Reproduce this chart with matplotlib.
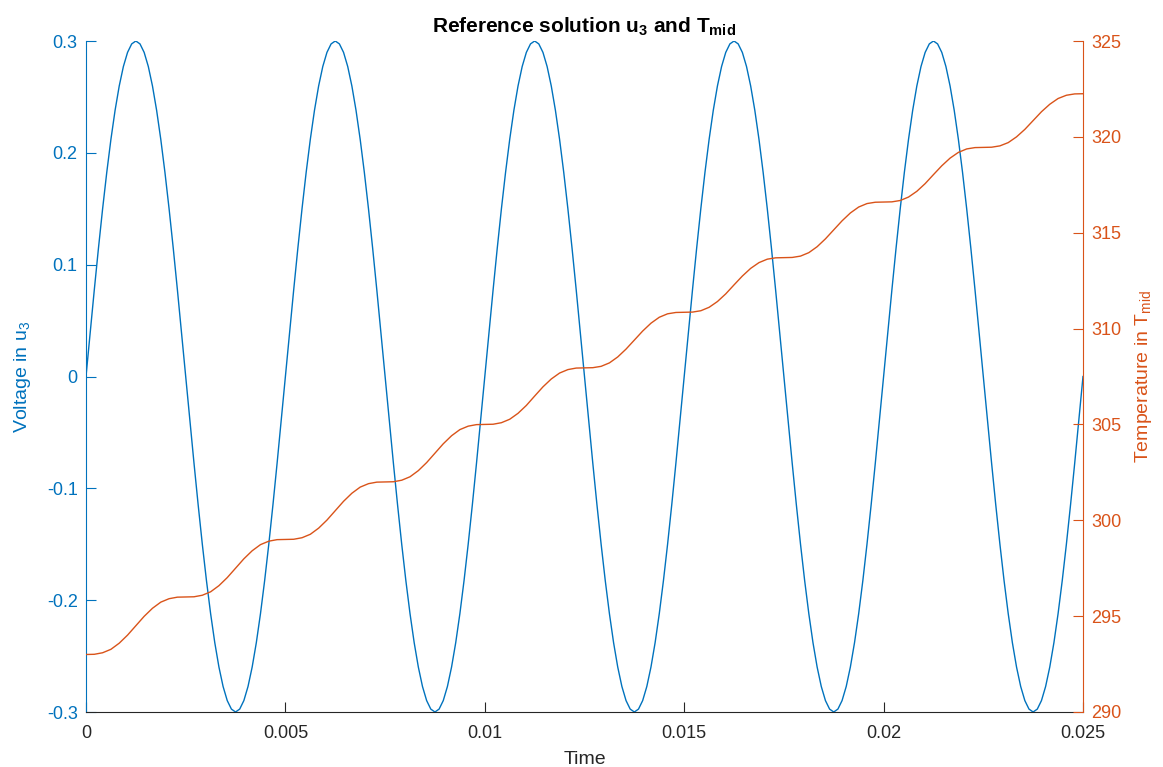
import numpy as np
import matplotlib
matplotlib.use("Agg")
import matplotlib.pyplot as plt

plt.rcParams['font.family'] = ['Liberation Sans', 'DejaVu Sans']
plt.rcParams['mathtext.fontset'] = 'custom'
plt.rcParams['mathtext.rm'] = 'Liberation Sans'
plt.rcParams['mathtext.it'] = 'Liberation Sans:italic'
plt.rcParams['mathtext.bf'] = 'Liberation Sans:bold'
plt.rcParams['axes.unicode_minus'] = False

# ---- data ----
t_start, t_end = 0.0, 0.025

# voltage u3, 48 samples per period (5 periods)
u3 = [
    0, .0392, .0776, .1148, .15, .1826, .2121, .238, .2598, .2772, .2898, .2974,
    .3, .2974, .2898, .2772, .2598, .238, .2121, .1826, .15, .1148, .0776, .0392,
    0, -.0392, -.0776, -.1148, -.15, -.1826, -.2121, -.238, -.2598, -.2772, -.2898, -.2974,
    -.3, -.2974, -.2898, -.2772, -.2598, -.238, -.2121, -.1826, -.15, -.1148, -.0776, -.0392,
    0, .0392, .0776, .1148, .15, .1826, .2121, .238, .2598, .2772, .2898, .2974,
    .3, .2974, .2898, .2772, .2598, .238, .2121, .1826, .15, .1148, .0776, .0392,
    0, -.0392, -.0776, -.1148, -.15, -.1826, -.2121, -.238, -.2598, -.2772, -.2898, -.2974,
    -.3, -.2974, -.2898, -.2772, -.2598, -.238, -.2121, -.1826, -.15, -.1148, -.0776, -.0392,
    0, .0392, .0776, .1148, .15, .1826, .2121, .238, .2598, .2772, .2898, .2974,
    .3, .2974, .2898, .2772, .2598, .238, .2121, .1826, .15, .1148, .0776, .0392,
    0, -.0392, -.0776, -.1148, -.15, -.1826, -.2121, -.238, -.2598, -.2772, -.2898, -.2974,
    -.3, -.2974, -.2898, -.2772, -.2598, -.238, -.2121, -.1826, -.15, -.1148, -.0776, -.0392,
    0, .0392, .0776, .1148, .15, .1826, .2121, .238, .2598, .2772, .2898, .2974,
    .3, .2974, .2898, .2772, .2598, .238, .2121, .1826, .15, .1148, .0776, .0392,
    0, -.0392, -.0776, -.1148, -.15, -.1826, -.2121, -.238, -.2598, -.2772, -.2898, -.2974,
    -.3, -.2974, -.2898, -.2772, -.2598, -.238, -.2121, -.1826, -.15, -.1148, -.0776, -.0392,
    0, .0392, .0776, .1148, .15, .1826, .2121, .238, .2598, .2772, .2898, .2974,
    .3, .2974, .2898, .2772, .2598, .238, .2121, .1826, .15, .1148, .0776, .0392,
    0, -.0392, -.0776, -.1148, -.15, -.1826, -.2121, -.238, -.2598, -.2772, -.2898, -.2974,
    -.3, -.2974, -.2898, -.2772, -.2598, -.238, -.2121, -.1826, -.15, -.1148, -.0776, -.0392,
    0,
]

# temperature T_mid, 12 samples per half period
T_mid = [
    293.0, 293.01, 293.09, 293.27, 293.59, 294.01, 294.5, 294.99, 295.41, 295.73, 295.91, 295.99, 296.0,
    296.01, 296.09, 296.27, 296.59, 297.01, 297.5, 297.99, 298.41, 298.73, 298.91, 298.99, 299.0,
    299.01, 299.09, 299.27, 299.59, 300.01, 300.5, 300.99, 301.41, 301.73, 301.91, 301.99, 302.0,
    302.01, 302.09, 302.27, 302.59, 303.01, 303.5, 303.99, 304.41, 304.73, 304.91, 304.99, 305.0,
    305.01, 305.09, 305.27, 305.58, 305.99, 306.48, 306.96, 307.37, 307.68, 307.86, 307.94, 307.95,
    307.96, 308.03, 308.21, 308.52, 308.93, 309.4, 309.87, 310.28, 310.59, 310.77, 310.84, 310.85,
    310.86, 310.93, 311.11, 311.41, 311.81, 312.28, 312.74, 313.14, 313.44, 313.62, 313.69, 313.7,
    313.71, 313.78, 313.96, 314.27, 314.68, 315.15, 315.62, 316.03, 316.34, 316.52, 316.59, 316.6,
    316.61, 316.68, 316.86, 317.16, 317.56, 318.03, 318.49, 318.89, 319.19, 319.37, 319.44, 319.45,
    319.46, 319.53, 319.7, 320.0, 320.39, 320.85, 321.31, 321.7, 322.0, 322.17, 322.24, 322.25,
]

x_ticks = [0, 0.005, 0.01, 0.015, 0.02, 0.025]
x_labels = ['0', '0.005', '0.01', '0.015', '0.02', '0.025']
u_ticks = [-0.3, -0.2, -0.1, 0, 0.1, 0.2, 0.3]
u_labels = ['-0.3', '-0.2', '-0.1', '0', '0.1', '0.2', '0.3']
T_ticks = [290, 295, 300, 305, 310, 315, 320, 325]
T_labels = ['290', '295', '300', '305', '310', '315', '320', '325']

t_u = np.linspace(t_start, t_end, len(u3))
t_T = np.linspace(t_start, t_end, len(T_mid))

BLUE = '#0072BD'
ORANGE = '#D95319'
DARK = '#262626'

fig = plt.figure(figsize=(11.63, 7.67), dpi=100)
ax = fig.add_axes([86/1163, 1-712/767, (1083-86)/1163, (712-41)/767])
ax2 = ax.twinx()

ax.plot(t_u, u3, color=BLUE, lw=1.0)
ax2.plot(t_T, T_mid, color=ORANGE, lw=1.0)

ax.set_xlim(t_start, t_end)
ax.set_ylim(-0.3, 0.3)
ax2.set_ylim(290, 325)

ax.set_xticks(x_ticks, x_labels)
ax.set_yticks(u_ticks, u_labels)
ax2.set_yticks(T_ticks, T_labels)

for a in (ax, ax2):
    a.spines['top'].set_visible(False)
ax.spines['left'].set_color(BLUE)
ax.spines['bottom'].set_color(DARK)
ax.spines['right'].set_visible(False)
ax2.spines['left'].set_visible(False)
ax2.spines['bottom'].set_visible(False)
ax2.spines['right'].set_color(ORANGE)

ax.tick_params(axis='x', direction='in', length=7.2, colors=DARK, labelsize=13, pad=9)
ax.tick_params(axis='y', direction='in', length=7.2, colors=BLUE, labelsize=13, pad=6)
ax2.tick_params(axis='y', direction='in', length=7.2, colors=ORANGE, labelsize=13, pad=6)

ax.set_xlabel('Time', fontsize=14, color=DARK, labelpad=7)
ax.set_ylabel(r'Voltage in u$_\mathrm{3}$', fontsize=14, color=BLUE, labelpad=10)
ax2.set_ylabel(r'Temperature in T$_\mathrm{mid}$', fontsize=14, color=ORANGE, labelpad=8)
ax.set_title(r'Reference solution u$_\mathbf{3}$ and T$_\mathbf{mid}$', fontsize=15,
             fontweight='bold', color='black', pad=6)

fig.savefig('out.png', dpi=100)
